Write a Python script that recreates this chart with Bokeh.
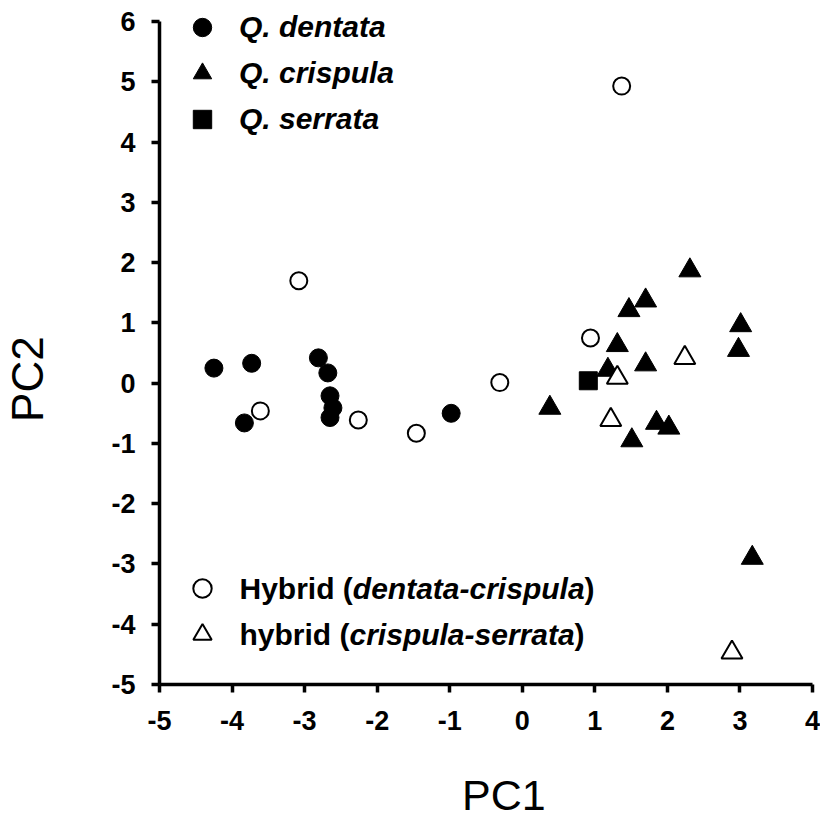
from bokeh.plotting import figure
from bokeh.models import Range1d, Legend, LegendItem, Label
from bokeh.embed import file_html
from bokeh.resources import INLINE

# ---- data ----
dentata_x = [-4.25, -3.73, -3.83, -2.81, -2.68, -2.65, -2.61, -2.65, -0.98]
dentata_y = [0.25, 0.33, -0.66, 0.42, 0.17, -0.21, -0.41, -0.57, -0.50]

crispula_x = [2.31, 1.70, 1.47, 3.01, 2.98, 1.31, 1.70, 1.18, 0.38, 1.85, 2.02, 1.51, 3.17]
crispula_y = [1.87, 1.37, 1.21, 0.96, 0.55, 0.63, 0.31, 0.22, -0.41, -0.66, -0.74, -0.95, -2.90]

serrata_x = [0.91]
serrata_y = [0.04]

hyb_dc_x = [-3.61, -2.26, -1.46, -0.31, -3.08, 1.37, 0.94]
hyb_dc_y = [-0.46, -0.61, -0.83, 0.01, 1.70, 4.93, 0.75]

hyb_cs_x = [2.24, 1.31, 1.22, 2.89]
hyb_cs_y = [0.42, 0.09, -0.61, -4.47]

x_ticks = [-5, -4, -3, -2, -1, 0, 1, 2, 3, 4]
x_tick_labels = ["-5", "-4", "-3", "-2", "-1", "0", "1", "2", "3", "4"]
y_ticks = [-5, -4, -3, -2, -1, 0, 1, 2, 3, 4, 5, 6]
y_tick_labels = ["-5", "-4", "-3", "-2", "-1", "0", "1", "2", "3", "4", "5", "6"]

x_title = "PC1"
y_title = "PC2"
species_labels = ["Q. dentata", "Q. crispula", "Q. serrata"]
hybrid_label_parts = [
    [("Hybrid (", "bold"), ("dentata-crispula", "bold italic"), (")", "bold")],
    [("hybrid (", "bold"), ("crispula-serrata", "bold italic"), (")", "bold")],
]

FONT = "Liberation Sans"
LEG_SIZE = 30
NBSP = "\u00a0"

# Arial/Liberation Sans Bold advance widths (em/1000)
W = {" ": 278, "(": 333, ")": 333, "-": 333, "H": 722, "a": 556, "b": 611, "c": 556,
     "d": 611, "e": 556, "h": 611, "i": 278, "l": 278, "n": 611, "p": 611, "r": 389,
     "s": 556, "t": 333, "u": 611, "y": 556}


def text_width(s, size):
    return sum(W.get(ch, 556) for ch in s) / 1000.0 * size


# y range extends a little above 6 so the legend is not clipped; axis line stops at 6
p = figure(frame_width=653, frame_height=684,
           x_range=Range1d(-5, 4), y_range=Range1d(-5, 6.35),
           output_backend="svg", toolbar_location=None,
           min_border_left=153, min_border_right=8,
           min_border_top=0, min_border_bottom=134)
p.grid.visible = False
p.outline_line_color = None
p.background_fill_color = "white"
p.border_fill_color = "white"

for ax, ticks, labels in ((p.xaxis[0], x_ticks, x_tick_labels), (p.yaxis[0], y_ticks, y_tick_labels)):
    ax.ticker = ticks
    ax.major_label_overrides = {t: l for t, l in zip(ticks, labels)}
    ax.axis_line_width = 3.5
    ax.axis_line_color = "black"
    ax.major_tick_line_width = 3.5
    ax.major_tick_line_color = "black"
    ax.major_tick_out = 8
    ax.major_tick_in = 0
    ax.minor_tick_out = 0
    ax.minor_tick_in = 0
    ax.major_label_text_font = FONT
    ax.major_label_text_font_style = "bold"
    ax.major_label_text_font_size = "27px"
    ax.major_label_text_color = "black"
    ax.axis_label_text_font = FONT
    ax.axis_label_text_font_style = "normal"
    ax.axis_label_text_color = "black"

p.yaxis.bounds = (-5, 6)
# non-breaking spaces nudge the titles off-centre, as in the reference
p.xaxis.axis_label = NBSP * 3 + x_title
p.yaxis.axis_label = y_title + NBSP * 6
p.xaxis.axis_label_text_font_size = "43px"
p.yaxis.axis_label_text_font_size = "44px"
p.xaxis.major_label_standoff = 18
p.yaxis.major_label_standoff = 16
p.xaxis.axis_label_standoff = 38
p.yaxis.axis_label_standoff = 56

r_d = p.scatter(dentata_x, dentata_y, marker="circle", size=18,
                fill_color="black", line_color="black")
r_c = p.scatter(crispula_x, crispula_y, marker="triangle", size=22,
                fill_color="black", line_color="black")
r_s = p.scatter(serrata_x, serrata_y, marker="square", size=18,
                fill_color="black", line_color="black")
r_h1 = p.scatter(hyb_dc_x, hyb_dc_y, marker="circle", size=17,
                 fill_color="white", line_color="black", line_width=2)
r_h2 = p.scatter(hyb_cs_x, hyb_cs_y, marker="triangle", size=21,
                 fill_color="white", line_color="black", line_width=2)

GW = 46
leg_common = dict(glyph_width=GW, glyph_height=GW, spacing=0, padding=0, margin=0,
                  label_standoff=14, border_line_color=None, background_fill_alpha=0,
                  label_text_font=FONT, label_text_font_size=f"{LEG_SIZE}px",
                  label_text_color="black")

leg1 = Legend(items=[LegendItem(label=species_labels[0], renderers=[r_d]),
                     LegendItem(label=species_labels[1], renderers=[r_c]),
                     LegendItem(label=species_labels[2], renderers=[r_s])],
              location=(20, 542), label_text_font_style="bold italic", **leg_common)
leg2 = Legend(items=[LegendItem(label=" ", renderers=[r_h1]),
                     LegendItem(label=" ", renderers=[r_h2])],
              location=(20, 27), label_text_font_style="bold", **leg_common)
p.add_layout(leg1)
p.add_layout(leg2)

text_x0 = 20 + GW + 14
row_centers = [27 + GW + GW / 2, 27 + GW / 2]
for parts, yc in zip(hybrid_label_parts, row_centers):
    x = text_x0
    for txt, style in parts:
        p.add_layout(Label(x=x, y=yc, x_units="screen", y_units="screen", text=txt,
                           text_font=FONT, text_font_style=style,
                           text_font_size=f"{LEG_SIZE}px", text_color="black",
                           text_baseline="middle", text_align="left"))
        x += text_width(txt, LEG_SIZE)

open("out.html", "w").write(file_html(p, INLINE))
